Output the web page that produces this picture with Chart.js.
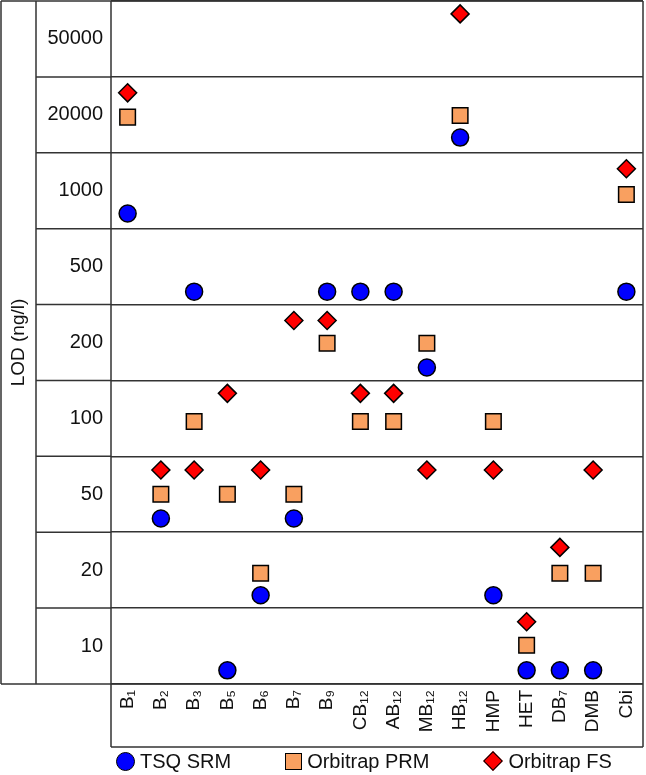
<!DOCTYPE html>
<html>
<head>
<meta charset="utf-8">
<title>LOD (ng/l)</title>
<script src="https://cdn.jsdelivr.net/npm/chart.js@4.4.1/dist/chart.umd.min.js"></script>
<style>
  body { margin: 0; background: #fff; font-family: 'Liberation Sans', Arial, sans-serif; }
  #wrap { position: relative; width: 646px; height: 775px; }
  #legend { position: absolute; left: 116px; top: 747px; height: 28px; display: flex; align-items: center; gap: 54px; font-size: 20px; color: #111; }
  .item { display: flex; align-items: center; gap: 5px; }
  .mk { box-sizing: border-box; border: 1.5px solid #000; display: inline-block; }
  .circle { width: 19px; height: 19px; border-radius: 50%; }
  .rect { width: 17px; height: 17px; }
  .rectRot { width: 14px; height: 14px; transform: rotate(45deg); margin: 0 3px; }
</style>
</head>
<body>
<div id="wrap">
  <canvas id="lodChart" width="646" height="775"></canvas>
  <div id="legend"></div>
</div>
<script>
// Categories (x) and LOD rows (y)
const compounds = ['B₁', 'B₂', 'B₃', 'B₅', 'B₆', 'B₇', 'B₉', 'CB₁₂', 'AB₁₂', 'MB₁₂', 'HB₁₂', 'HMP', 'HET', 'DB₇', 'DMB', 'Cbi'];
const lodRows = ['10', '20', '50', '100', '200', '500', '1000', '20000', '50000'];

// Position of each marker, in row units (0 = bottom of the "10" row, 9 = top of the "50000" row)
const tsqSrm      = [6.20, 2.18, 5.17, 0.18, 1.17, 2.18, 5.17, 5.17, 5.17, 4.17, 7.20, 1.17, 0.18, 0.18, 0.18, 5.17];
const orbitrapPrm = [7.47, 2.50, 3.46, 2.50, 1.46, 2.50, 4.49, 3.46, 3.46, 4.49, 7.49, 3.46, 0.51, 1.46, 1.46, 6.45];
const orbitrapFs  = [7.79, 2.82, 2.82, 3.83, 2.82, 4.79, 4.79, 3.83, 3.83, 2.82, 8.83, 2.82, 0.82, 1.80, 2.82, 6.79];

const lineColor = '#333';
const legendBox = document.getElementById('legend');
const ctx = document.getElementById('lodChart').getContext('2d');

Chart.defaults.font.family = "'Liberation Sans', Arial, sans-serif";
Chart.defaults.color = '#111';

// Frame lines: outer box, row lines running through the label column, box under the x labels
const framePlugin = {
    id: 'frame',
    beforeDatasetsDraw(chart) {
        const { ctx, chartArea: a, scales: { x, y } } = chart;
        ctx.save();
        ctx.strokeStyle = lineColor;
        ctx.lineWidth = 1.5;
        ctx.beginPath();
        for (let v = 1; v < lodRows.length; v++) {
            const py = y.getPixelForValue(v);
            ctx.moveTo(36, py);
            ctx.lineTo(a.left, py);
        }
        ctx.moveTo(1, a.top); ctx.lineTo(a.right, a.top);
        ctx.moveTo(1, a.bottom); ctx.lineTo(a.right, a.bottom);
        ctx.moveTo(1, a.top); ctx.lineTo(1, a.bottom);
        ctx.moveTo(36, a.top); ctx.lineTo(36, a.bottom);
        ctx.moveTo(a.left, a.top); ctx.lineTo(a.left, x.bottom);
        ctx.moveTo(a.right, a.top); ctx.lineTo(a.right, x.bottom);
        ctx.moveTo(a.left, x.bottom); ctx.lineTo(a.right, x.bottom);
        ctx.stroke();
        ctx.restore();
    }
};

function markerSet(label, data, style, radius, fill) {
    return {
        label: label,
        data: data,
        showLine: false,
        clip: false,
        pointStyle: style,
        pointRadius: radius,
        pointHoverRadius: radius,
        pointBackgroundColor: fill,
        pointBorderColor: '#000',
        pointBorderWidth: 1.5
    };
}

const lodChart = new Chart(ctx, {
    type: 'line',
    data: {
        labels: compounds,
        datasets: [
            markerSet('TSQ SRM', tsqSrm, 'circle', 8.5, '#0000ff'),
            markerSet('Orbitrap PRM', orbitrapPrm, 'rect', 11, '#f9a060'),
            markerSet('Orbitrap FS', orbitrapFs, 'rectRot', 9, '#ff0000')
        ]
    },
    options: {
        responsive: false,
        animation: false,
        layout: { autoPadding: false, padding: { top: 1, right: 3, left: 0, bottom: 28 } },
        plugins: {
            legend: { display: false },
            tooltip: { enabled: false }
        },
        scales: {
            x: {
                offset: true,
                grid: { display: false, drawTicks: false },
                border: { display: false },
                ticks: { autoSkip: false, minRotation: 90, maxRotation: 90, padding: 6, font: { size: 19 }, color: '#111' },
                afterFit: (scale) => {
                    scale.height = 63;
                    scale.paddingLeft = 0;
                    scale.paddingRight = 0;
                }
            },
            y: {
                min: 0,
                max: lodRows.length,
                grid: {
                    drawTicks: false,
                    lineWidth: 1.5,
                    color: (c) => (c.tick && c.tick.value % 1 === 0) ? lineColor : 'rgba(0,0,0,0)'
                },
                border: { display: false },
                ticks: {
                    stepSize: 0.5,
                    autoSkip: false,
                    padding: 8,
                    font: { size: 20 },
                    color: '#111',
                    callback: (v) => (v % 1 === 0.5) ? lodRows[Math.floor(v)] : ''
                },
                title: {
                    display: true,
                    text: 'LOD (ng/l)',
                    font: { size: 19 },
                    color: '#111',
                    padding: { top: 7, bottom: 0 }
                },
                afterFit: (scale) => {
                    scale.width = 111;
                    scale.paddingTop = 0;
                    scale.paddingBottom = 0;
                }
            }
        }
    },
    plugins: [framePlugin]
});

// Legend under the chart, built from the datasets
lodChart.data.datasets.forEach((ds) => {
    const item = document.createElement('div');
    item.className = 'item';
    const mk = document.createElement('span');
    mk.className = 'mk ' + ds.pointStyle;
    mk.style.background = ds.pointBackgroundColor;
    const txt = document.createElement('span');
    txt.textContent = ds.label;
    item.append(mk, txt);
    legendBox.append(item);
});
</script>
</body>
</html>
